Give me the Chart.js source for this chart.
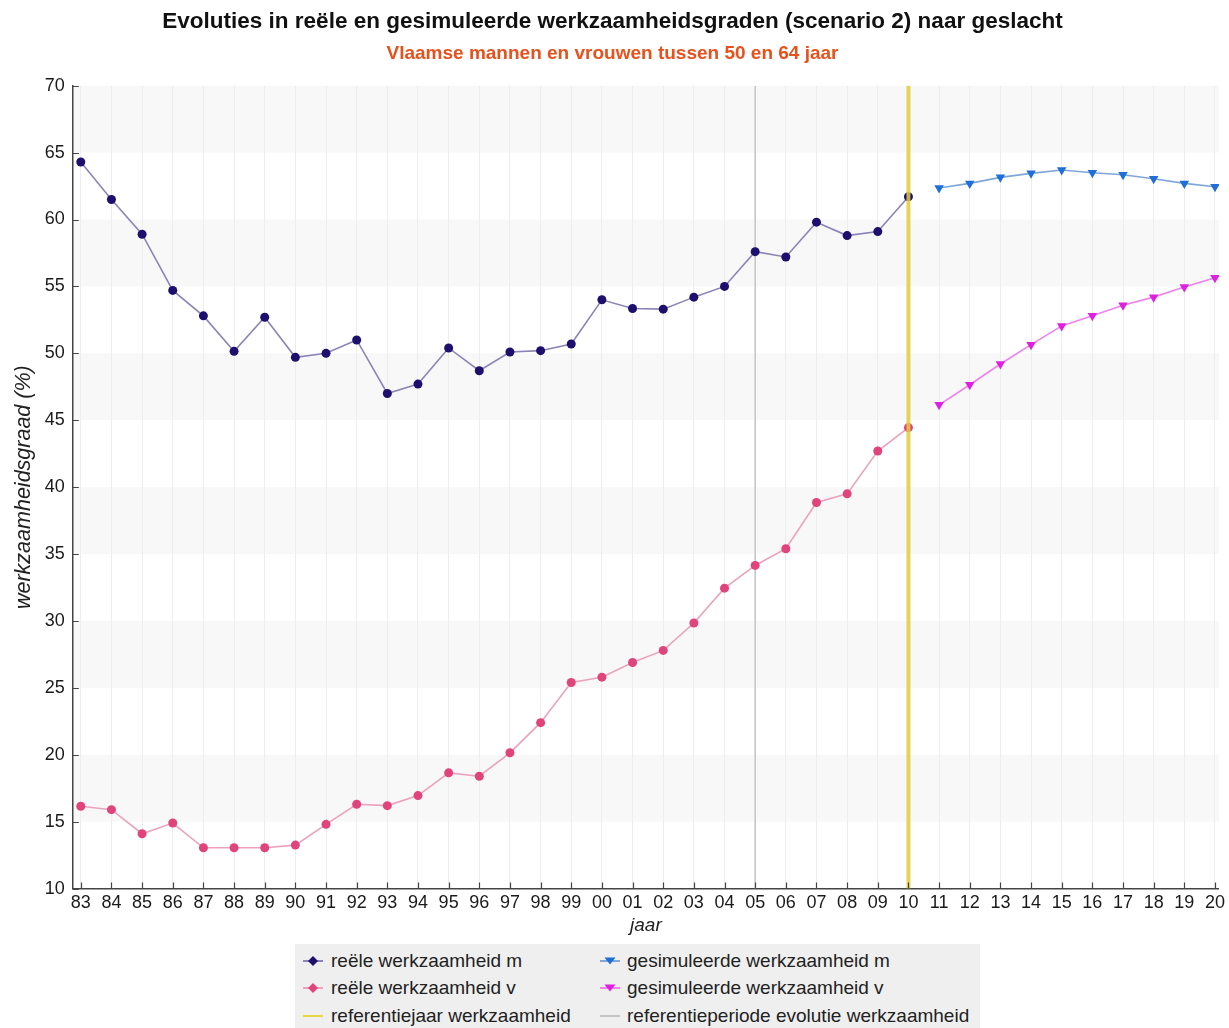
<!DOCTYPE html>
<html>
<head>
<meta charset="utf-8">
<title>Werkzaamheidsgraden 50-64 jaar</title>
<script src="https://cdn.jsdelivr.net/npm/chart.js@4.4.1/dist/chart.umd.min.js"></script>
<style>
  html, body { margin: 0; padding: 0; background: #fff; }
  #wrap { position: relative; width: 1229px; height: 1028px; overflow: hidden;
          font-family: 'Liberation Sans', Arial, sans-serif; }
  #chart { position: absolute; left: 0; top: 0; }
  #legend { position: absolute; left: 295px; top: 944px; width: 685px; height: 90px; background: #efefef; }
  .item { position: absolute; height: 20px; white-space: nowrap; }
  .item svg { position: absolute; left: 0; top: 0; }
  .item span { position: absolute; top: 0; font-size: 19px; line-height: 20px; color: #222; }
</style>
</head>
<body>
<div id="wrap">
  <canvas id="chart" width="1229" height="943"></canvas>
  <div id="legend"></div>
</div>
<script>
// ── Data ─────────────────────────────────────────────────────────────────
const realYears = [1983, 1984, 1985, 1986, 1987, 1988, 1989, 1990, 1991, 1992,
                   1993, 1994, 1995, 1996, 1997, 1998, 1999, 2000, 2001, 2002,
                   2003, 2004, 2005, 2006, 2007, 2008, 2009, 2010];
const simYears  = [2011, 2012, 2013, 2014, 2015, 2016, 2017, 2018, 2019, 2020];

const menReal   = [64.3, 61.5, 58.9, 54.7, 52.8, 50.15, 52.7, 49.7, 50.0, 51.0,
                   47.0, 47.7, 50.4, 48.7, 50.1, 50.2, 50.7, 54.0, 53.35, 53.3,
                   54.2, 55.0, 57.6, 57.2, 59.8, 58.8, 59.1, 61.7];
const womenReal = [16.15, 15.9, 14.1, 14.9, 13.05, 13.05, 13.05, 13.25, 14.8, 16.3,
                   16.2, 16.95, 18.65, 18.4, 20.15, 22.4, 25.4, 25.8, 26.9, 27.8,
                   29.85, 32.45, 34.15, 35.4, 38.85, 39.5, 42.7, 44.45];
const menSim    = [62.35, 62.7, 63.15, 63.45, 63.7, 63.5, 63.35, 63.05, 62.7, 62.45];
const womenSim  = [46.15, 47.65, 49.2, 50.65, 52.05, 52.8, 53.6, 54.2, 54.95, 55.65];

const refPeriodYear = 2005;   // grey line
const refYear       = 2010;   // yellow line

const xTicks = realYears.concat(simYears);
const yTicks = [10, 15, 20, 25, 30, 35, 40, 45, 50, 55, 60, 65, 70];

const colors = {
  menPoint:   '#1d0f6e',
  menLine:    '#8c84b6',
  womenPoint: '#e0447a',
  womenLine:  '#eba2bd',
  simMPoint:  '#1f6fd6',
  simMLine:   '#80a6d8',
  simVPoint:  '#e020e0',
  simVLine:   '#ee82ee',
  refYear:    'rgba(226,206,60,0.85)',
  refPeriod:  '#c4c4c4',
  axis:       '#444444',
  band:       '#f8f8f8',
  grid:       '#ededed'
};

const font = "'Liberation Sans', Arial, sans-serif";

const toPoints = (xs, ys) => xs.map((x, i) => ({ x: x, y: ys[i] }));
const vLine = x => [{ x: x, y: yTicks[0] }, { x: x, y: yTicks[yTicks.length - 1] }];

// ── Alternating horizontal bands behind the grid ───────────────────────────
const bandPlugin = {
  id: 'bands',
  beforeDraw(chart) {
    const { ctx, chartArea: a, scales: { y } } = chart;
    ctx.save();
    ctx.fillStyle = colors.band;
    for (let i = 0; i < yTicks.length - 1; i++) {
      if (i % 2 === 1) {
        const top = y.getPixelForValue(yTicks[i + 1]);
        const bot = y.getPixelForValue(yTicks[i]);
        ctx.fillRect(a.left, top, a.right - a.left, bot - top);
      }
    }
    ctx.restore();
  }
};

// ── Small inward tick marks on both axes ───────────────────────────────────
const innerTicks = {
  id: 'innerTicks',
  afterDraw(chart) {
    const { ctx, chartArea: a, scales: { x, y } } = chart;
    ctx.save();
    ctx.strokeStyle = colors.axis;
    ctx.lineWidth = 1.2;
    ctx.beginPath();
    xTicks.forEach(v => {
      const px = Math.round(x.getPixelForValue(v)) + 0.5;
      ctx.moveTo(px, a.bottom);
      ctx.lineTo(px, a.bottom - 6);
    });
    yTicks.forEach(v => {
      const py = Math.round(y.getPixelForValue(v)) + 0.5;
      ctx.moveTo(a.left, py);
      ctx.lineTo(a.left + 6, py);
    });
    ctx.stroke();
    ctx.restore();
  }
};

const ctx = document.getElementById('chart').getContext('2d');

new Chart(ctx, {
  type: 'line',
  data: {
    datasets: [
      {
        label: 'referentiejaar werkzaamheid',
        data: vLine(refYear),
        borderColor: colors.refYear,
        borderWidth: 4,
        pointRadius: 0,
        order: 0
      },
      {
        label: 'reële werkzaamheid m',
        data: toPoints(realYears, menReal),
        borderColor: colors.menLine,
        borderWidth: 1.6,
        pointStyle: 'circle',
        pointRadius: 4.5,
        pointBackgroundColor: colors.menPoint,
        pointBorderColor: colors.menPoint,
        pointBorderWidth: 0,
        order: 1
      },
      {
        label: 'reële werkzaamheid v',
        data: toPoints(realYears, womenReal),
        borderColor: colors.womenLine,
        borderWidth: 1.6,
        pointStyle: 'circle',
        pointRadius: 4.5,
        pointBackgroundColor: colors.womenPoint,
        pointBorderColor: colors.womenPoint,
        pointBorderWidth: 0,
        order: 1
      },
      {
        label: 'gesimuleerde werkzaamheid m',
        data: toPoints(simYears, menSim),
        borderColor: colors.simMLine,
        borderWidth: 1.6,
        pointStyle: 'triangle',
        pointRotation: 180,
        pointRadius: 5.5,
        pointBackgroundColor: colors.simMPoint,
        pointBorderColor: colors.simMPoint,
        pointBorderWidth: 0,
        order: 1
      },
      {
        label: 'gesimuleerde werkzaamheid v',
        data: toPoints(simYears, womenSim),
        borderColor: colors.simVLine,
        borderWidth: 1.6,
        pointStyle: 'triangle',
        pointRotation: 180,
        pointRadius: 5.5,
        pointBackgroundColor: colors.simVPoint,
        pointBorderColor: colors.simVPoint,
        pointBorderWidth: 0,
        order: 1
      },
      {
        label: 'referentieperiode evolutie werkzaamheid',
        data: vLine(refPeriodYear),
        borderColor: colors.refPeriod,
        borderWidth: 1.5,
        pointRadius: 0,
        order: 2
      }
    ]
  },
  options: {
    responsive: false,
    animation: false,
    layout: { padding: { left: 0, right: 4, top: 0, bottom: 0 } },
    plugins: {
      legend: { display: false },
      tooltip: { enabled: false },
      title: {
        display: true,
        text: 'Evoluties in reële en gesimuleerde werkzaamheidsgraden (scenario 2) naar geslacht',
        color: '#111',
        font: { family: font, size: 22.5, weight: 'bold' },
        padding: { top: 8.5, bottom: 6.8 }
      },
      subtitle: {
        display: true,
        text: 'Vlaamse mannen en vrouwen tussen 50 en 64 jaar',
        color: '#e8501c',
        font: { family: font, size: 19, weight: 'bold' },
        padding: { top: 0, bottom: 20.6 }
      }
    },
    scales: {
      x: {
        type: 'linear',
        min: 1982.74,
        max: 2020.13,
        afterBuildTicks: scale => { scale.ticks = xTicks.map(v => ({ value: v })); },
        ticks: {
          autoSkip: false,
          maxRotation: 0,
          padding: 4,
          color: '#1a1a1a',
          font: { family: font, size: 18 },
          callback: v => String(v % 100).padStart(2, '0')
        },
        grid: { color: colors.grid, lineWidth: 1, drawTicks: false },
        border: { display: true, color: colors.axis, width: 1.5 },
        title: {
          display: true,
          text: 'jaar',
          color: '#222',
          font: { family: font, size: 19, style: 'italic' },
          padding: { top: -4, bottom: 6 }
        }
      },
      y: {
        min: 10,
        max: 70,
        afterBuildTicks: scale => { scale.ticks = yTicks.map(v => ({ value: v })); },
        ticks: {
          padding: 8,
          color: '#1a1a1a',
          font: { family: font, size: 18 }
        },
        grid: { color: 'rgba(0,0,0,0)', drawTicks: false },
        border: { display: true, color: colors.axis, width: 1.5 },
        title: {
          display: true,
          text: 'werkzaamheidsgraad (%)',
          color: '#222',
          font: { family: font, size: 21.5, style: 'italic' },
          padding: { top: 11, bottom: 0 }
        }
      }
    }
  },
  plugins: [bandPlugin, innerTicks]
});

// ── HTML legend (two columns, three rows) ─────────────────────────────────
const legendItems = [
  { text: 'reële werkzaamheid m',                    col: 0, row: 0, line: colors.menLine,   mark: 'diamond',  fill: colors.menPoint },
  { text: 'reële werkzaamheid v',                    col: 0, row: 1, line: colors.womenLine, mark: 'diamond',  fill: colors.womenPoint },
  { text: 'referentiejaar werkzaamheid',             col: 0, row: 2, line: '#e8d640',        mark: null },
  { text: 'gesimuleerde werkzaamheid m',             col: 1, row: 0, line: colors.simMLine,  mark: 'triangle', fill: colors.simMPoint },
  { text: 'gesimuleerde werkzaamheid v',             col: 1, row: 1, line: colors.simVLine,  mark: 'triangle', fill: colors.simVPoint },
  { text: 'referentieperiode evolutie werkzaamheid', col: 1, row: 2, line: colors.refPeriod, mark: null }
];
const colMarkX = [18, 315];
const colTextX = [36, 332];
const rowY     = [17, 44, 72];

const legend = document.getElementById('legend');
legend.innerHTML = legendItems.map(it => {
  let shape = '';
  if (it.mark === 'diamond') shape = `<polygon points="10,5 15,10 10,15 5,10" fill="${it.fill}"/>`;
  if (it.mark === 'triangle') shape = `<polygon points="4.5,6.5 15.5,6.5 10,13.5" fill="${it.fill}"/>`;
  const left = colMarkX[it.col] - 10;
  return `<div class="item" style="left:${left}px;top:${rowY[it.row] - 10}px">
      <svg width="20" height="20"><line x1="0" y1="10" x2="20" y2="10" stroke="${it.line}" stroke-width="2"/>${shape}</svg>
      <span style="left:${colTextX[it.col] - left}px">${it.text}</span>
    </div>`;
}).join('');
</script>
</body>
</html>
